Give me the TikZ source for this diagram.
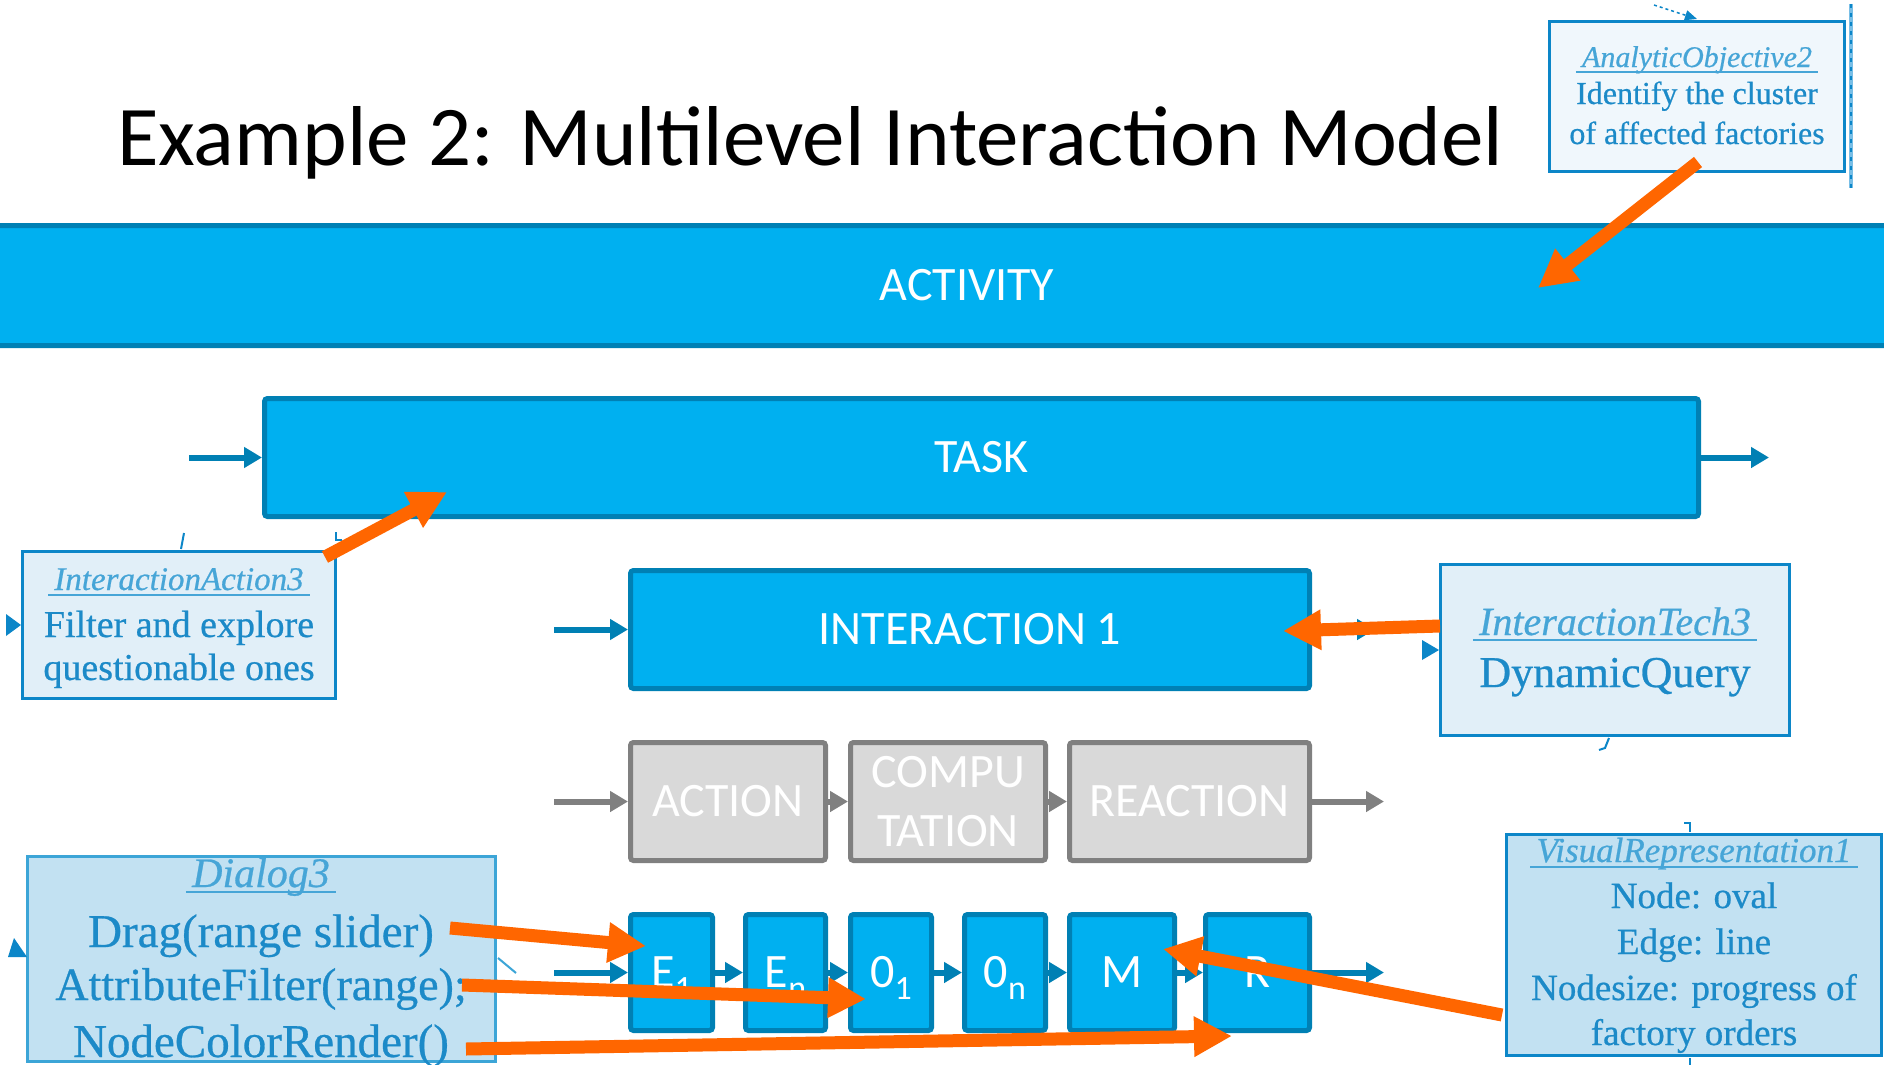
\documentclass[tikz,border=0pt]{standalone}
\usepackage{fontspec}
\setmainfont{Liberation Serif}
\newfontfamily\noteserif[FakeBold=0.6]{Liberation Serif}
\newfontfamily\slidefont{Carlito}
\usetikzlibrary{arrows.meta}

\newcommand\pxsize[1]{\fontsize{#1}{#1}\selectfont}

\definecolor{boxblue}{RGB}{0,176,240}
\definecolor{edgeblue}{RGB}{0,128,180}
\definecolor{stepgray}{RGB}{217,217,217}
\definecolor{edgegray}{RGB}{128,128,128}
\definecolor{hot}{RGB}{255,102,0}
\definecolor{noteline}{RGB}{12,134,200}
\definecolor{notesoftline}{RGB}{60,165,215}
\definecolor{noteink}{RGB}{28,138,200}
\definecolor{notetitle}{RGB}{70,165,215}
\definecolor{notepale}{RGB}{240,247,252}
\definecolor{notelight}{RGB}{225,239,248}
\definecolor{notemid}{RGB}{194,225,242}
\definecolor{wavy}{RGB}{120,190,230}

\tikzset{
  level/.style={draw=edgeblue, fill=boxblue, line width=5pt, rounded corners=3pt,
    text=white, font=\slidefont\pxsize{48}, inner sep=0pt},
  stage/.style={draw=edgegray, fill=stepgray, line width=5pt, rounded corners=3pt,
    text=white, font=\slidefont\fontsize{48}{59}\selectfont, inner sep=0pt, align=center},
  flow/.style={draw=edgeblue, line width=6pt, -{Triangle[length=18pt,width=20pt]}},
  grayflow/.style={draw=edgegray, line width=6pt, -{Triangle[length=18pt,width=20pt]}},
  note/.style={draw=noteline, line width=3pt, inner sep=0pt},
  notetxt/.style={text=noteink, inner sep=0pt, anchor=base},
  notehead/.style={text=notetitle, inner sep=0pt, anchor=base},
  uline/.style={draw=notetitle, line width=2.5pt},
  pointer/.style={draw=hot, line width=13pt, -{Triangle[length=38pt,width=38pt]}},
  tick/.style={draw=noteline, line width=2pt},
  nub/.style={fill=noteline},
}

\newcommand\uline[1]{\draw[uline] ([xshift=-6pt,yshift=-5pt]#1.base west) -- ([xshift=6pt,yshift=-5pt]#1.base east);}

\begin{document}
\begin{tikzpicture}[x=1pt,y=-1pt]
\useasboundingbox[fill=white] (0,0) rectangle (1884,1065);

% heading
\node[anchor=base west, inner sep=0pt, font=\slidefont\pxsize{85}] (title) at (117,165)
  {Example 2: Multilevel Interaction Model};

% the three upper levels
\node[level, minimum width=2049pt, minimum height=120pt] (activity) at (967,285.5) {ACTIVITY};
\node[level, minimum width=1434pt, minimum height=118pt] (task) at (981.5,457.5) {TASK};
\node[level, minimum width=679pt, minimum height=118pt] (inter) at (970,629.5) {INTERACTION 1};

\draw[flow] ([xshift=-73pt]task.west) -- (task.west);
\draw[flow] (task.east) -- ([xshift=68pt]task.east);
\draw[flow] ([xshift=-74pt]inter.west) -- (inter.west);
\draw[flow] (inter.east) -- ([xshift=63pt]inter.east);

% action / computation / reaction
\node[stage, minimum width=195pt, minimum height=118pt] (act) at (728,801.5) {ACTION};
\node[stage, minimum width=195pt, minimum height=118pt] (comp) at (948,801.5) {COMPU\\TATION};
\node[stage, minimum width=240pt, minimum height=118pt] (react) at (1189.5,801.5) {REACTION};

\draw[grayflow] ([xshift=-74pt]act.west) -- (act.west);
\draw[grayflow] (act.east) -- (comp.west);
\draw[grayflow] (comp.east) -- (react.west);
\draw[grayflow] (react.east) -- ([xshift=72pt]react.east);

% elementary steps
\node[level, minimum width=82pt, minimum height=116pt] (e1) at (671.5,972.5)
  {E\smash{\raisebox{-12pt}{\pxsize{34}1}}};
\node[level, minimum width=80pt, minimum height=116pt] (en) at (785.5,972.5)
  {E\smash{\raisebox{-12pt}{\pxsize{34}n}}};
\node[level, minimum width=81pt, minimum height=116pt] (o1) at (891,972.5)
  {0\smash{\raisebox{-12pt}{\pxsize{34}1}}};
\node[level, minimum width=81pt, minimum height=116pt] (on) at (1005,972.5)
  {0\smash{\raisebox{-12pt}{\pxsize{34}n}}};
\node[level, minimum width=105pt, minimum height=116pt] (m) at (1122,972.5) {M};
\node[level, minimum width=104pt, minimum height=116pt] (r) at (1257.5,972.5) {R};

\draw[flow] ([xshift=-74pt]e1.west) -- (e1.west);
\draw[flow] (e1.east) -- (en.west);
\draw[flow] (en.east) -- (o1.west);
\draw[flow] (o1.east) -- (on.west);
\draw[flow] (on.east) -- (m.west);
\draw[flow] (m.east) -- (r.west);
\draw[flow] (r.east) -- ([xshift=72pt]r.east);

% note: analytic objective
\draw[wavy, line width=4pt] (1851,4) -- (1851,188);
\draw[noteline, line width=2.5pt, dash pattern=on 4pt off 5pt] (1851,4) -- (1851,188);
\node[note, fill=notepale, minimum width=295pt, minimum height=150pt] (ao) at (1697,96.5) {};
\draw[noteline, line width=1.5pt, dashed, -{Triangle[length=12pt,width=10pt]}] (1654,5) -- (1697,19);
\node[notehead, font=\noteserif\itshape\pxsize{30}] (aoh) at (1697,67) {AnalyticObjective2};
\uline{aoh}
\node[notetxt, font=\noteserif\pxsize{32}] (ao1) at (1697,104) {Identify the cluster};
\node[notetxt, font=\noteserif\pxsize{32}] (ao2) at (1697,144) {of affected factories};

% note: interaction action
\node[note, fill=notelight, minimum width=313pt, minimum height=147pt] (ia) at (179,625) {};
\draw[tick] (184,533) -- (181,549);
\draw[tick] (336,532) -- (336,540) -- (342,540);
\fill[nub] (6,614) -- (21,625) -- (6,636) -- cycle;
\node[notehead, font=\noteserif\itshape\pxsize{33}] (iah) at (179,590) {InteractionAction3};
\uline{iah}
\node[notetxt, font=\noteserif\pxsize{38}] (ia1) at (179,637) {Filter and explore};
\node[notetxt, font=\noteserif\pxsize{38}] (ia2) at (179,680) {questionable ones};

% note: interaction technique
\node[note, fill=notelight, minimum width=349pt, minimum height=171pt] (it) at (1615,650) {};
\fill[nub] (1422,640) -- (1439,650) -- (1422,660) -- cycle;
\draw[tick] (1609,738) -- (1605,748) -- (1599,750);
\node[notehead, font=\noteserif\itshape\pxsize{40}] (ith) at (1615,635) {InteractionTech3};
\uline{ith}
\node[notetxt, font=\noteserif\pxsize{44}] (it1) at (1615,687) {DynamicQuery};

% note: dialog
\node[note, draw=notesoftline, fill=notemid, minimum width=468pt, minimum height=205pt] (dl) at (261.5,959) {};
\fill[nub] (8,957) -- (14,938) -- (27,957) -- cycle;
\draw[tick, draw=notesoftline] (498,958) -- (516,973);
\node[notehead, font=\noteserif\itshape\pxsize{42}] (dlh) at (261,887) {Dialog3};
\uline{dlh}
\node[notetxt, font=\noteserif\pxsize{47}] (dl1) at (261,947) {Drag(range slider)};
\node[notetxt, font=\noteserif\pxsize{46}] (dl2) at (261,1000) {AttributeFilter(range);};
\node[notetxt, font=\noteserif\pxsize{47}] (dl3) at (261,1057) {NodeColorRender()};

% note: visual representation
\node[note, fill=notemid, minimum width=375pt, minimum height=221pt] (vr) at (1694,945) {};
\draw[tick] (1684,823) -- (1690,823) -- (1690,832);
\draw[tick] (1690,1058) -- (1690,1065);
\node[notehead, font=\noteserif\itshape\pxsize{35}] (vrh) at (1694,862) {VisualRepresentation1};
\uline{vrh}
\node[notetxt, font=\noteserif\pxsize{37}] (vr1) at (1694,908) {Node: oval};
\node[notetxt, font=\noteserif\pxsize{37}] (vr2) at (1694,954) {Edge: line};
\node[notetxt, font=\noteserif\pxsize{37}] (vr3) at (1694,1000) {Nodesize: progress of};
\node[notetxt, font=\noteserif\pxsize{37}] (vr4) at (1694,1045) {factory orders};

% pointers from the notes to the levels they describe
\coordinate (aoOut) at (1698,162);   \coordinate (activityIn) at (1538,288);
\coordinate (iaOut) at (325,557);    \coordinate (taskIn) at (447,492);
\coordinate (itOut) at (1440,626);   \coordinate (interIn) at (1283,631);
\coordinate (dragOut) at (450,928);  \coordinate (e1In) at (646,946);
\coordinate (attrOut) at (462,985);  \coordinate (o1In) at (866,999);
\coordinate (ncrOut) at (466,1049);  \coordinate (rIn) at (1232,1036);
\coordinate (vrOut) at (1502,1015);  \coordinate (mIn) at (1163,949);

\draw[pointer] (aoOut) -- (activityIn);
\draw[pointer] (iaOut) -- (taskIn);
\draw[pointer] (itOut) -- (interIn);
\draw[pointer] (dragOut) -- (e1In);
\draw[pointer] (attrOut) -- (o1In);
\draw[pointer] (ncrOut) -- (rIn);
\draw[pointer] (vrOut) -- (mIn);
\end{tikzpicture}
\end{document}
